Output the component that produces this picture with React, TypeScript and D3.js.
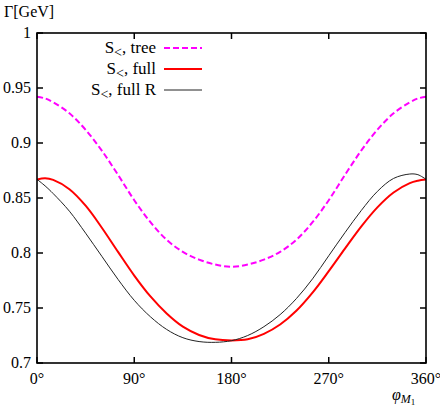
import React, { useEffect, useRef } from 'react'
import * as d3 from 'd3'

// angle grid in degrees, shared by all three curves
const angles = [
  0, 7.5, 15, 30, 45, 60, 75, 90, 105, 120, 135, 150, 165, 180, 195, 210, 225,
  240, 255, 270, 285, 300, 315, 330, 345, 352.5, 360,
]

const treeVals = [
  0.942, 0.9405, 0.937, 0.927, 0.912, 0.893, 0.871, 0.848, 0.828, 0.812,
  0.801, 0.794, 0.7895, 0.7875, 0.7895, 0.794, 0.801, 0.812, 0.828, 0.848,
  0.871, 0.893, 0.912, 0.927, 0.937, 0.9405, 0.942,
]

const fullVals = [
  0.8668, 0.868, 0.8665, 0.858, 0.843, 0.823, 0.801, 0.7795, 0.7605, 0.745,
  0.733, 0.7255, 0.7215, 0.7205, 0.7215, 0.7265, 0.735, 0.7475, 0.764, 0.7835,
  0.804, 0.824, 0.8415, 0.855, 0.8635, 0.8657, 0.8668,
]

const fullRVals = [
  0.867, 0.861, 0.854, 0.838, 0.818, 0.797, 0.776, 0.757, 0.742, 0.7305,
  0.723, 0.7195, 0.7188, 0.7203, 0.725, 0.733, 0.744, 0.7585, 0.7765, 0.7975,
  0.8185, 0.8385, 0.856, 0.8678, 0.8718, 0.8712, 0.867,
]

const xTicks = [0, 90, 180, 270, 360]
const yTicks = [0.7, 0.75, 0.8, 0.85, 0.9, 0.95, 1]

const seriesList = [
  { name: 'tree', values: treeVals, color: '#ff00ff', width: 2, dash: '6,3' },
  { name: 'full', values: fullVals, color: '#ff0000', width: 2, dash: null },
  { name: 'full R', values: fullRVals, color: '#222222', width: 1, dash: null },
]

const FONT = '"Liberation Serif", serif'

export default function App() {
  const svgRef = useRef<SVGSVGElement>(null)

  useEffect(() => {
    if (!svgRef.current) return
    document.body.style.margin = '0'

    const svg = d3.select(svgRef.current)
    svg.selectAll('*').remove()

    const left = 37
    const right = 426
    const top = 33
    const bottom = 363

    const x = d3.scaleLinear().domain([0, 360]).range([left, right])
    const y = d3.scaleLinear().domain([0.7, 1]).range([bottom, top])

    // curves (clipped to the frame)
    svg
      .append('clipPath')
      .attr('id', 'plotclip')
      .append('rect')
      .attr('x', left)
      .attr('y', top)
      .attr('width', right - left)
      .attr('height', bottom - top)

    const line = d3
      .line<number>()
      .x((_, i) => x(angles[i]))
      .y((d) => y(d))
      .curve(d3.curveCatmullRom)

    seriesList.forEach((s) => {
      const p = svg
        .append('path')
        .datum(s.values)
        .attr('clip-path', 'url(#plotclip)')
        .attr('fill', 'none')
        .attr('stroke', s.color)
        .attr('stroke-width', s.width)
        .attr('d', line)
      if (s.dash) p.attr('stroke-dasharray', s.dash)
    })

    // ticks on all four sides, pointing inward
    const tickLen = 6
    xTicks.forEach((t) => {
      svg
        .append('line')
        .attr('x1', x(t))
        .attr('x2', x(t))
        .attr('y1', bottom)
        .attr('y2', bottom - tickLen)
        .attr('stroke', '#000')
        .attr('stroke-width', 1.5)
      svg
        .append('line')
        .attr('x1', x(t))
        .attr('x2', x(t))
        .attr('y1', top)
        .attr('y2', top + tickLen)
        .attr('stroke', '#000')
        .attr('stroke-width', 1.5)
      svg
        .append('text')
        .attr('x', x(t))
        .attr('y', 384)
        .attr('text-anchor', 'middle')
        .style('font-family', FONT)
        .style('font-size', '16px')
        .text(`${t}°`)
    })
    yTicks.forEach((t) => {
      svg
        .append('line')
        .attr('x1', left)
        .attr('x2', left + tickLen)
        .attr('y1', y(t))
        .attr('y2', y(t))
        .attr('stroke', '#000')
        .attr('stroke-width', 1.5)
      svg
        .append('line')
        .attr('x1', right)
        .attr('x2', right - tickLen)
        .attr('y1', y(t))
        .attr('y2', y(t))
        .attr('stroke', '#000')
        .attr('stroke-width', 1.5)
      svg
        .append('text')
        .attr('x', 31)
        .attr('y', y(t) + 5)
        .attr('text-anchor', 'end')
        .style('font-family', FONT)
        .style('font-size', '16px')
        .text(String(t))
    })

    // frame
    svg
      .append('rect')
      .attr('x', left)
      .attr('y', top)
      .attr('width', right - left)
      .attr('height', bottom - top)
      .attr('fill', 'none')
      .attr('stroke', '#000')
      .attr('stroke-width', 1.6)

    // legend
    seriesList.forEach((s, i) => {
      const ly = 48 + i * 21
      const txt = svg
        .append('text')
        .attr('x', 156)
        .attr('y', ly + 5)
        .attr('text-anchor', 'end')
        .style('font-family', FONT)
        .style('font-size', '17px')
      txt.append('tspan').text('S')
      txt
        .append('tspan')
        .attr('dy', 4)
        .style('font-size', '14px')
        .text('<')
      txt.append('tspan').attr('dy', -4).text(`, ${s.name}`)
      const l = svg
        .append('line')
        .attr('x1', 164)
        .attr('x2', 202)
        .attr('y1', ly)
        .attr('y2', ly)
        .attr('stroke', s.color)
        .attr('stroke-width', s.width)
      if (s.dash) l.attr('stroke-dasharray', s.dash)
    })

    // axis titles
    svg
      .append('text')
      .attr('x', 4)
      .attr('y', 17)
      .style('font-family', FONT)
      .style('font-size', '16px')
      .text('Γ[GeV]')

    const xl = svg
      .append('text')
      .attr('x', 392)
      .attr('y', 400)
      .style('font-family', FONT)
      .style('font-size', '16px')
      .style('font-style', 'italic')
    xl.append('tspan').text('φ')
    xl.append('tspan')
      .attr('dy', 3)
      .style('font-size', '12px')
      .text('M')
    xl.append('tspan')
      .attr('dy', 1.5)
      .style('font-size', '9px')
      .style('font-style', 'normal')
      .text('1')
  }, [])

  return (
    <svg
      ref={svgRef}
      width={440}
      height={409}
      style={{ display: 'block', position: 'absolute', left: 0, top: 0, background: '#fff' }}
    />
  )
}
